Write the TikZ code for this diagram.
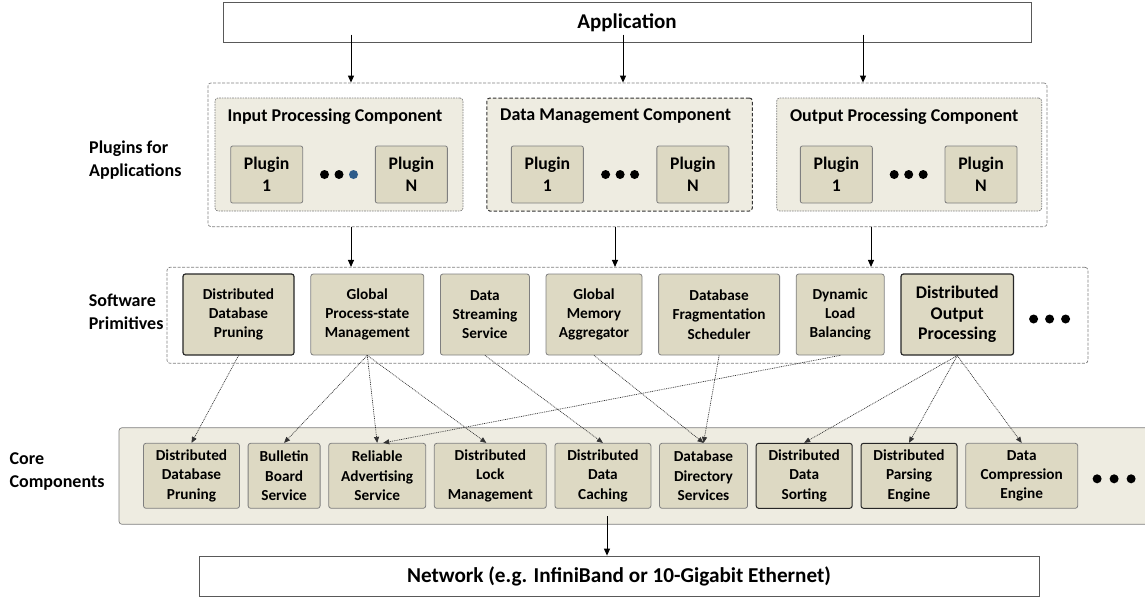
\documentclass[tikz,border=0pt]{standalone}
\usepackage{fontspec}
\setmainfont{Carlito}
\usetikzlibrary{positioning,calc,arrows.meta}
\definecolor{boxtan}{HTML}{DDD9C3}
\definecolor{paletan}{HTML}{EEECE1}
\definecolor{boxline}{HTML}{7F7F7F}
\definecolor{dotblue}{HTML}{2E5C8A}
\newcommand{\fs}[2]{\fontsize{#1}{#2}\selectfont\bfseries}
\newcommand{\dotrow}[3]{% centre, spacing, colour of last dot
  \coordinate (dc) at (#1);
  \fill ([xshift=-#2]dc) circle (4.5pt);
  \fill (dc) circle (4.5pt);
  \fill[#3] ([xshift=#2]dc) circle (4.5pt);}
\tikzset{
  plainbox/.style={draw=black!65,fill=white,line width=0.8pt,inner sep=0pt},
  tier/.style={draw=boxline,line width=0.7pt,rounded corners=3pt,inner sep=0pt},
  comp/.style={draw=boxline,fill=paletan,line width=0.7pt,rounded corners=3pt,dash pattern=on 1.6pt off 1pt,minimum height=113pt,inner sep=0pt},
  title/.style={font=\fs{18}{22},inner sep=0pt},
  plugin/.style={draw=boxline,fill=boxtan,line width=0.8pt,rounded corners=2pt,minimum width=72pt,minimum height=57pt,align=center,inner sep=0pt,font=\fs{17.7}{22}},
  prim/.style={draw=boxline,fill=boxtan,line width=0.8pt,rounded corners=2.5pt,minimum height=81pt,align=center,inner sep=0pt,font=\fs{15.3}{19.3}},
  core/.style={prim,minimum height=65pt},
  strong/.style={draw=black!85,line width=1.2pt},
  side/.style={align=left,inner sep=0pt,font=\fs{18}{23}},
  arr/.style={-{Triangle[length=7pt,width=6pt]},line width=1pt},
  dotarr/.style={-{Triangle[length=6pt,width=5pt]},draw=black!80,line width=0.7pt,dash pattern=on 0.9pt off 0.9pt},
}
\begin{document}
\begin{tikzpicture}[x=1pt,y=-1pt]
\useasboundingbox (0,0) rectangle (1145,598);
% application and network
\node[plainbox,minimum width=808pt,minimum height=40pt,font=\fs{21}{25}] (app) at (627,22.3) {Application};
\node[plainbox,minimum width=840pt,minimum height=40pt,font=\fs{21.2}{25}] (net) at (619,576) {Network (e.g. InfiniBand or 10-Gigabit Ethernet)};

% plugins for applications
\node[tier,dash pattern=on 3pt off 1.5pt,minimum width=839pt,minimum height=143.7pt] (plug) at (627.5,154.8) {};
\node[comp,minimum width=248pt] (inpc) at (339,154.5) {};
\node[comp,minimum width=265.5pt,right=23pt of inpc,draw=black!80,line width=1pt,dash pattern=on 3.5pt off 2pt] (dmc) {};
\node[comp,minimum width=265pt,right=23.5pt of dmc] (opc) {};
\node[title] (inpt) at ([xshift=-4pt,yshift=-19pt]inpc.north) {Input Processing Component};
\node[title] (dmt) at ([xshift=-4pt,yshift=-19pt]dmc.north) {Data Management Component};
\node[title] (opt) at ([xshift=-5pt,yshift=-19pt]opc.north) {Output Processing Component};
\node[plugin] (ip1) at ([xshift=52pt,yshift=-20pt]inpc.west) {Plugin\\1};
\node[plugin] (ipn) at ([xshift=-52pt,yshift=-20pt]inpc.east) {Plugin\\N};
\node[plugin] (dp1) at ([xshift=61pt,yshift=-20pt]dmc.west) {Plugin\\1};
\node[plugin] (dpn) at ([xshift=-60pt,yshift=-20pt]dmc.east) {Plugin\\N};
\node[plugin] (op1) at ([xshift=60pt,yshift=-20pt]opc.west) {Plugin\\1};
\node[plugin] (opn) at ([xshift=-61pt,yshift=-20pt]opc.east) {Plugin\\N};
\dotrow{$(ip1.east)!0.5!(ipn.west)$}{14.5pt}{dotblue}
\dotrow{$(dp1.east)!0.5!(dpn.west)$}{14.5pt}{black}
\dotrow{$(op1.east)!0.5!(opn.west)$}{14.5pt}{black}
\node[side,left=26pt of plug.west,yshift=-5pt] (lplug) {Plugins for\\Applications};

% software primitives
\node[tier,dash pattern=on 3pt off 1.5pt,minimum width=921pt,minimum height=96pt] (prims) at (627.5,315.3) {};
\node[prim,strong,minimum width=111pt] (sw1) at (238.5,314.5) {Distributed\\Database\\Pruning};
\node[prim,minimum width=113pt,right=15.8pt of sw1] (sw2) {Global\\Process-state\\Management};
\node[prim,minimum width=89pt,right=15.8pt of sw2] (sw3) {Data\\Streaming\\Service};
\node[prim,minimum width=96pt,right=15.8pt of sw3] (sw4) {Global\\Memory\\Aggregator};
\node[prim,minimum width=121pt,right=15.8pt of sw4] (sw5) {Database\\Fragmentation\\Scheduler};
\node[prim,minimum width=88pt,right=15.8pt of sw5] (sw6) {Dynamic\\Load\\Balancing};
\node[prim,strong,minimum width=112.5pt,right=15.8pt of sw6,font=\fs{17.8}{20.5}] (sw7) {Distributed\\Output\\Processing};
\dotrow{[xshift=35.5pt,yshift=-4.5pt]sw7.east}{16pt}{black}
\node[side,left=3pt of prims.west,yshift=3pt] (lprim) {Software\\Primitives};

% core components
\node[tier,fill=paletan,minimum width=1034pt,minimum height=96.6pt] (cores) at (636,476) {};
\node[core,minimum width=96pt] (c1) at (191.5,475.8) {Distributed\\Database\\Pruning};
\node[core,minimum width=72pt,right=7.8pt of c1] (c2) {Bulletin\\Board\\Service};
\node[core,minimum width=97pt,right=7.8pt of c2] (c3) {Reliable\\Advertising\\Service};
\node[core,minimum width=112pt,right=7.8pt of c3] (c4) {Distributed\\Lock\\Management};
\node[core,minimum width=96pt,right=7.8pt of c4] (c5) {Distributed\\Data\\Caching};
\node[core,minimum width=88pt,right=7.8pt of c5] (c6) {Database\\Directory\\Services};
\node[core,strong,line width=1pt,minimum width=96pt,right=7.8pt of c6] (c7) {Distributed\\Data\\Sorting};
\node[core,strong,line width=1pt,minimum width=96pt,right=7.8pt of c7] (c8) {Distributed\\Parsing\\Engine};
\node[core,minimum width=112pt,right=7.8pt of c8] (c9) {Data\\Compression\\Engine};
\dotrow{[xshift=36pt,yshift=-3pt]c9.east}{17pt}{black}
\node[side,left=14pt of cores.west,yshift=4pt] (lcore) {Core\\Components};

% connectors
\coordinate (a1) at (351,0);
\coordinate (a2) at (623,0);
\coordinate (a3) at (863,0);
\coordinate (b1) at (351,0);
\coordinate (b2) at (615,0);
\coordinate (b3) at (871,0);
\coordinate (d1) at (607,0);
\draw[arr] ([yshift=8pt]app.south -| a1) -- (plug.north -| a1);
\draw[arr] ([yshift=8pt]app.south -| a2) -- (plug.north -| a2);
\draw[arr] ([yshift=8pt]app.south -| a3) -- (plug.north -| a3);
\draw[arr] (plug.south -| b1) -- (prims.north -| b1);
\draw[arr] (plug.south -| b2) -- (prims.north -| b2);
\draw[arr] (plug.south -| b3) -- (prims.north -| b3);
\draw[arr] ([yshift=8.6pt]cores.south -| d1) -- (net.north -| d1);
\draw[dotarr] (sw1.south) -- (c1.north);
\draw[dotarr] (sw2.south) -- (c2.north);
\draw[dotarr] (sw2.south) -- (c3.north);
\draw[dotarr] (sw2.south) -- ([xshift=-4pt]c4.north);
\draw[dotarr] (sw3.south) -- (c5.north);
\draw[dotarr] (sw4.south) -- (c6.north);
\draw[dotarr] (sw5.south) -- (c6.north);
\draw[dotarr] (sw6.south) -- ([xshift=6pt]c3.north);
\draw[dotarr] (sw7.south) -- (c7.north);
\draw[dotarr] (sw7.south) -- (c8.north);
\draw[dotarr] (sw7.south) -- (c9.north);
\end{tikzpicture}
\end{document}
